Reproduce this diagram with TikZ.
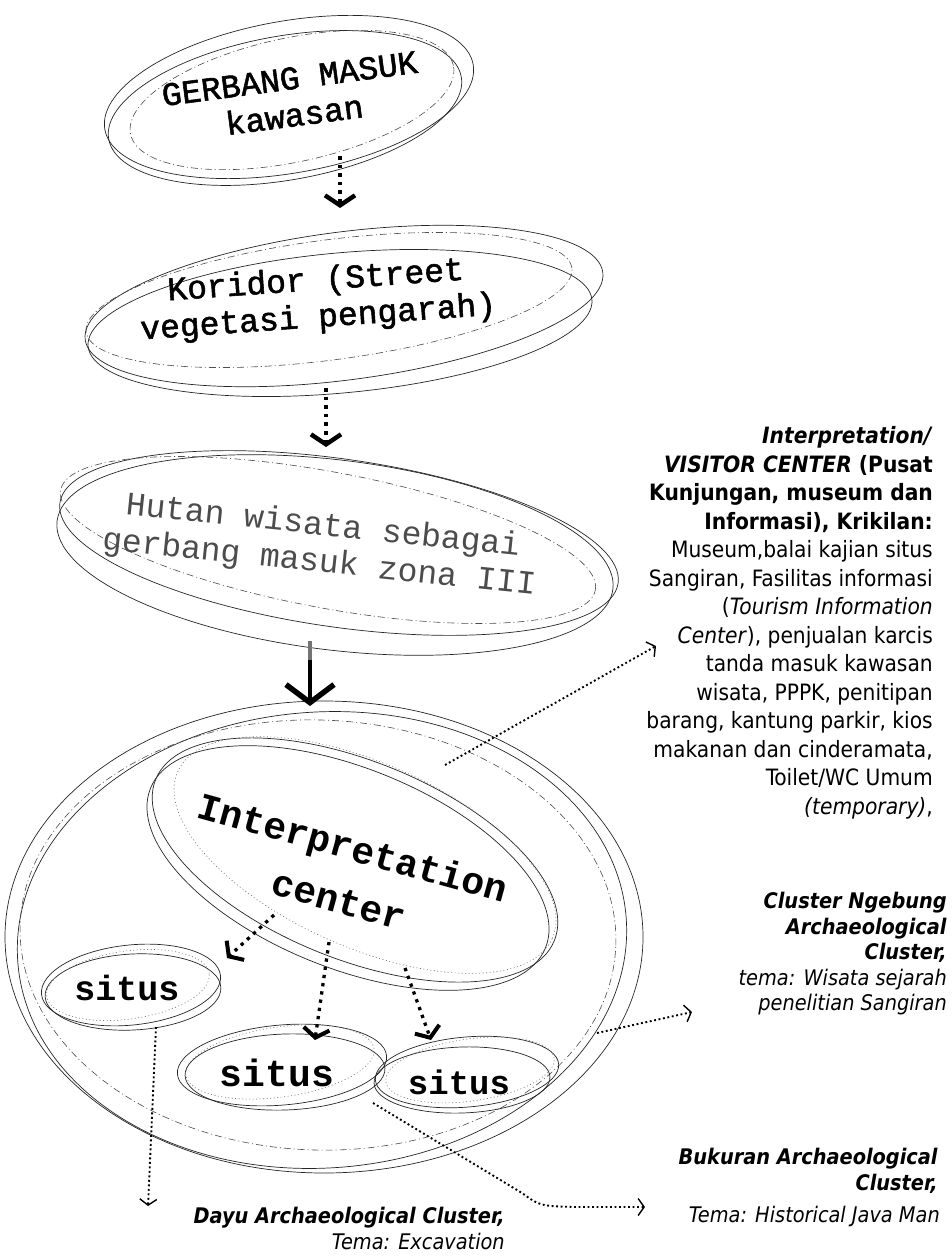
\documentclass[tikz,border=0pt]{standalone}
\usepackage{fontspec}
\usetikzlibrary{arrows.meta,shapes.geometric}
\newfontfamily\twfont{Liberation Mono}
\newfontfamily\twmed{Liberation Mono}[FakeBold=1.6]
\newfontfamily\labfont{DejaVuSansCondensed}[Extension=.ttf,UprightFont=*,BoldFont=*-Bold,ItalicFont=*-Oblique,BoldItalicFont=*-BoldOblique]
\begin{document}
\begin{tikzpicture}[x=1pt,y=-1pt,
  ellsolid/.style={draw=black!85,ellipse,inner sep=0pt,line width=0.7pt},
  elldash/.style={draw=black!70,ellipse,inner sep=0pt,line width=0.6pt,dash pattern=on 7pt off 3pt on 1pt off 3pt},
  elldot/.style={draw=black!55,ellipse,inner sep=0pt,line width=0.6pt,dash pattern=on 1pt off 2.5pt},
  twtext/.style={inner sep=0pt,align=center,font=\twmed\fontsize{33}{37}\selectfont},
  bigdot/.style={line width=3.6pt,dash pattern=on 3.6pt off 5pt,-{Straight Barb[length=10pt,width=30pt,line width=4.4pt]}},
  smalldot/.style={line width=3.3pt,dash pattern=on 3.3pt off 5pt,-{Straight Barb[length=9pt,width=26pt,line width=4pt]}},
  leader/.style={line width=1.9pt,dash pattern=on 1.9pt off 2.6pt,-{Straight Barb[length=6pt,width=17pt,line width=1.4pt]}},
  labtext/.style={inner sep=0pt,align=right,anchor=north east}
]
\fill[white] (0,0) rectangle (951,1260);
\useasboundingbox (0,0) rectangle (951,1260);

% ---------- GERBANG MASUK ----------
\node[ellsolid,minimum width=374pt,minimum height=152pt,rotate=10] (gA) at (289,97) {};
\node[ellsolid,minimum width=358pt,minimum height=144pt,rotate=10] (gB) at (285,108) {};
\node[elldash,minimum width=330pt,minimum height=124pt,rotate=12] (gC) at (292,100) {};
\node[twtext,rotate=7.5] (gT) at (292,97) {GERBANG MASUK\\kawasan};

% ---------- Koridor ----------
\node[ellsolid,minimum width=522pt,minimum height=148pt,rotate=7.4] (kA) at (344,306) {};
\node[ellsolid,minimum width=506pt,minimum height=140pt,rotate=5.3] (kB) at (340,323) {};
\node[elldash,minimum width=490pt,minimum height=120pt,rotate=7.5] (kC) at (329,300) {};
\node[twtext,rotate=4] (kT) at (317,300) {Koridor (Street\\vegetasi pengarah)};

% ---------- Hutan wisata ----------
\node[ellsolid,minimum width=564pt,minimum height=168pt,rotate=-8.2] (hA) at (339,543) {};
\node[ellsolid,minimum width=560pt,minimum height=190pt,rotate=-7] (hB) at (335,555) {};
\node[elldash,minimum width=544pt,minimum height=136pt,rotate=-10.6] (hC) at (328,540) {};
\node[inner sep=0pt,align=center,font=\twfont\fontsize{33}{37}\selectfont,text=black!70,rotate=-6] (hT) at (321,545) {Hutan wisata sebagai\\gerbang masuk zona III};

% ---------- big zone ellipse ----------
\node[ellsolid,minimum width=638pt,minimum height=472pt] (bA) at (324,937) {};
\node[ellsolid,minimum width=610pt,minimum height=456pt,rotate=4] (bB) at (322,940) {};
\node[elldash,minimum width=596pt,minimum height=430pt,rotate=-2] (bC) at (318,935) {};

% ---------- Interpretation center ----------
\node[ellsolid,minimum width=430pt,minimum height=198pt,rotate=-22] (iA) at (355,860) {};
\node[ellsolid,minimum width=426pt,minimum height=200pt,rotate=-22] (iB) at (348,868) {};
\node[elldot,minimum width=410pt,minimum height=184pt,rotate=-24] (iC) at (365,855) {};
\node[inner sep=0pt,align=center,font=\twfont\bfseries\fontsize{38}{54}\selectfont,rotate=-15.5] (iT) at (346,873) {Interpretation\\center};

% ---------- situs ----------
\node[ellsolid,minimum width=180pt,minimum height=80pt,rotate=6] (sLA) at (131,985) {};
\node[ellsolid,minimum width=176pt,minimum height=76pt,rotate=3] (sLB) at (133,992) {};
\node[elldot,minimum width=164pt,minimum height=68pt,rotate=8] (sLC) at (128,985) {};
\node[inner sep=0pt,font=\twfont\bfseries\fontsize{35}{35}\selectfont] (sLT) at (127,988) {situs};

\node[ellsolid,minimum width=210pt,minimum height=80pt,rotate=5] (sMA) at (282,1065) {};
\node[ellsolid,minimum width=200pt,minimum height=76pt,rotate=2] (sMB) at (285,1072) {};
\node[elldot,minimum width=190pt,minimum height=70pt,rotate=8] (sMC) at (280,1062) {};
\node[inner sep=0pt,font=\twfont\bfseries\fontsize{38}{38}\selectfont] (sMT) at (277,1073) {situs};

\node[ellsolid,minimum width=184pt,minimum height=70pt,rotate=5] (sRA) at (467,1072) {};
\node[ellsolid,minimum width=176pt,minimum height=66pt,rotate=2] (sRB) at (462,1080) {};
\node[elldot,minimum width=170pt,minimum height=62pt,rotate=8] (sRC) at (470,1070) {};
\node[inner sep=0pt,font=\twfont\bfseries\fontsize{34}{34}\selectfont] (sRT) at (459,1082) {situs};

% ---------- flow arrows ----------
\coordinate (a1s) at (340,156); \coordinate (a1e) at (340,208);
\coordinate (a2s) at (326,388); \coordinate (a2e) at (326,447);
\coordinate (a3s) at (310,641); \coordinate (a3e) at (310,706);
\draw[bigdot] (a1s) -- (a1e);
\draw[bigdot] (a2s) -- (a2e);
\draw[line width=4.2pt,-{Straight Barb[length=18pt,width=48pt,line width=5.5pt]}] (a3s) -- (a3e);
\draw[line width=4.2pt,black!55] (310,641) -- (310,660);

\coordinate (d1s) at (274,915); \coordinate (d1e) at (227,958);
\coordinate (d2s) at (329,942); \coordinate (d2e) at (315,1040);
\coordinate (d3s) at (405,968); \coordinate (d3e) at (431,1040);
\draw[smalldot] (d1s) -- (d1e);
\draw[smalldot] (d2s) -- (d2e);
\draw[smalldot] (d3s) -- (d3e);

% ---------- labels ----------
\node[labtext,font=\labfont\fontsize{22.5}{28.5}\selectfont] (vT) at (933,426.5) {%
\textbf{\textit{Interpretation/}}\\
\textbf{\textit{VISITOR CENTER} (Pusat}\\
\textbf{Kunjungan, museum dan}\\
\textbf{Informasi), Krikilan:}\\
Museum,balai kajian situs\\
Sangiran, Fasilitas informasi\\
(\textit{Tourism Information}\\
\textit{Center}), penjualan karcis\\
tanda masuk kawasan\\
wisata, PPPK, penitipan\\
barang, kantung parkir, kios\\
makanan dan cinderamata,\\
Toilet/WC Umum\\
\textit{(temporary)},};

\node[labtext,font=\labfont\fontsize{21.5}{25.5}\selectfont] (nT) at (947,892) {%
\textbf{\textit{Cluster Ngebung}}\\
\textbf{\textit{Archaeological}}\\
\textbf{\textit{Cluster,}}\\
\textit{tema: Wisata sejarah}\\
\textit{penelitian Sangiran}};

\node[labtext,font=\labfont\fontsize{21.5}{25.5}\selectfont] (bT) at (938,1148) {%
\textbf{\textit{Bukuran Archaeological}}\\
\textbf{\textit{Cluster,}}};
\node[labtext,font=\labfont\fontsize{21.5}{25.5}\selectfont] (bT2) at (940,1206) {\textit{Tema: Historical Java Man}};

\node[labtext,font=\labfont\fontsize{21.5}{26}\selectfont] (dT) at (505,1207) {%
\textbf{\textit{Dayu Archaeological Cluster,}}\\
\textit{Tema: Excavation}};

% ---------- leaders ----------
\coordinate (lvs) at (445,765); \coordinate (lve) at (656,646);
\coordinate (lns) at (597,1033); \coordinate (lne) at (692,1012);
\coordinate (lbs) at (373,1103); \coordinate (lbe) at (645,1207);
\coordinate (lds) at (156,1027); \coordinate (lde) at (148,1206);
\draw[leader] (lvs) -- (lve);
\draw[leader] (lns) -- (lne);
\draw[leader] (lbs) -- (522,1193) .. controls (540,1206) .. (575,1207) -- (lbe);
\draw[leader] (lds) -- (lde);
\end{tikzpicture}
\end{document}
